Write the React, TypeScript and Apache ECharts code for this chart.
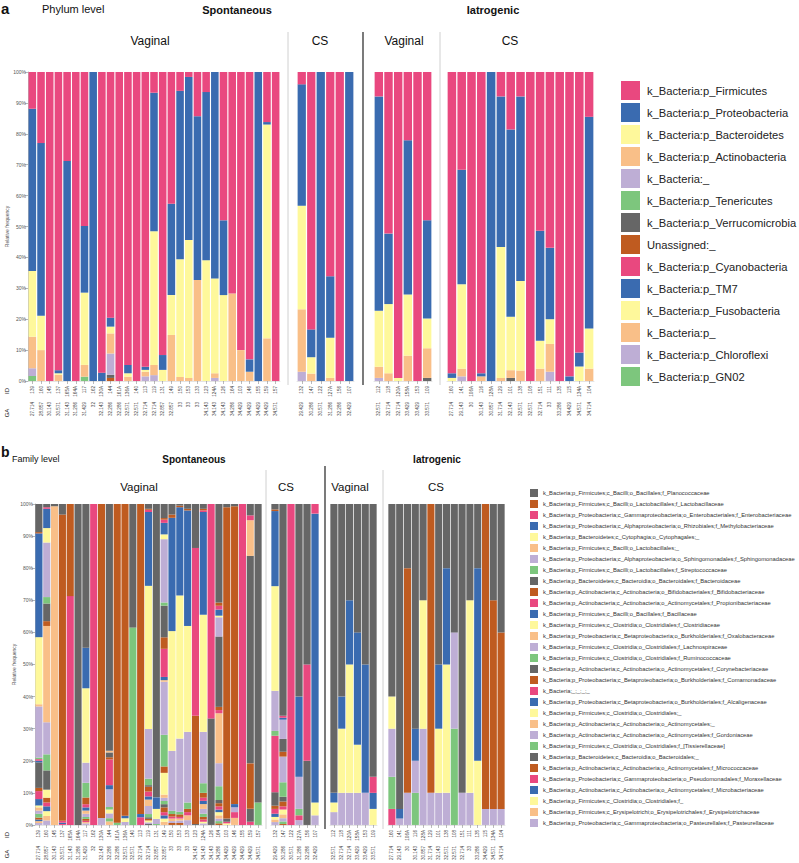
import React, { useEffect, useRef } from 'react';
import * as echarts from 'echarts';

const FONT = 'Liberation Sans, Arial, Helvetica, sans-serif';

// ---------- sample labels ----------
const spVagIds = ['139','160','145','137','165A','164A','117','162','130A','144','161A','136A','140','113','119','131','149','150','153','133','123','124A','126','164','103','146','155','159','157'];
const spVagGA = ['27.714','28.857','30.143','30.571','31.143','31.286','31.429','32','32.143','32.286','32.286','32.571','32.571','32.714','32.714','32.857','32.857','33','33','33','34.143','34.143','34.143','34.286','34.429','34.429','34.429','34.429','34.571'];
const spCsIds = ['132','147','122','127A','156','107'];
const spCsGA = ['29.429','30.286','30.571','31.286','32.286','32.429'];
const iaVagIds = ['112','118','120A','158A','153','109'];
const iaVagGA = ['32.571','32.714','32.714','33.429','33.429','33.571'];
const iaCsIds = ['160','141','106A','116','128A','129','101','138','108','151','111','135','115','134A','104'];
const iaCsGA = ['27.714','29.143','30','30.143','30.857','31.714','32.143','32.571','32.571','32.714','33','33.286','34.429','34.571','34.714'];

// ---------- taxa ----------
const phylumNames = [
  'k_Bacteria:p_Firmicutes','k_Bacteria:p_Proteobacteria','k_Bacteria:p_Bacteroidetes','k_Bacteria:p_Actinobacteria',
  'k_Bacteria:_','k_Bacteria:p_Tenericutes','k_Bacteria:p_Verrucomicrobia','Unassigned:_','k_Bacteria:p_Cyanobacteria',
  'k_Bacteria:p_TM7','k_Bacteria:p_Fusobacteria','k_Bacteria:p_','k_Bacteria:p_Chloroflexi','k_Bacteria:p_GN02'
];
const familyNames = [
  'k_Bacteria;p_Firmicutes;c_Bacilli;o_Bacillales;f_Planococcaceae',
  'k_Bacteria;p_Firmicutes;c_Bacilli;o_Lactobacillales;f_Lactobacillaceae',
  'k_Bacteria;p_Proteobacteria;c_Gammaproteobacteria;o_Enterobacteriales;f_Enterobacteriaceae',
  'k_Bacteria;p_Proteobacteria;c_Alphaproteobacteria;o_Rhizobiales;f_Methylobacteriaceae',
  'k_Bacteria;p_Bacteroidetes;c_Cytophagia;o_Cytophagales;_',
  'k_Bacteria;p_Firmicutes;c_Bacilli;o_Lactobacillales;_',
  'k_Bacteria;p_Proteobacteria;c_Alphaproteobacteria;o_Sphingomonadales;f_Sphingomonadaceae',
  'k_Bacteria;p_Firmicutes;c_Bacilli;o_Lactobacillales;f_Streptococcaceae',
  'k_Bacteria;p_Bacteroidetes;c_Bacteroidia;o_Bacteroidales;f_Bacteroidaceae',
  'k_Bacteria;p_Actinobacteria;c_Actinobacteria;o_Bifidobacteriales;f_Bifidobacteriaceae',
  'k_Bacteria;p_Actinobacteria;c_Actinobacteria;o_Actinomycetales;f_Propionibacteriaceae',
  'k_Bacteria;p_Firmicutes;c_Bacilli;o_Bacillales;f_Bacillaceae',
  'k_Bacteria;p_Firmicutes;c_Clostridia;o_Clostridiales;f_Clostridiaceae',
  'k_Bacteria;p_Proteobacteria;c_Betaproteobacteria;o_Burkholderiales;f_Oxalobacteraceae',
  'k_Bacteria;p_Firmicutes;c_Clostridia;o_Clostridiales;f_Lachnospiraceae',
  'k_Bacteria;p_Firmicutes;c_Clostridia;o_Clostridiales;f_Ruminococcaceae',
  'k_Bacteria;p_Actinobacteria;c_Actinobacteria;o_Actinomycetales;f_Corynebacteriaceae',
  'k_Bacteria;p_Proteobacteria;c_Betaproteobacteria;o_Burkholderiales;f_Comamonadaceae',
  'k_Bacteria;_;_;_;_',
  'k_Bacteria;p_Proteobacteria;c_Betaproteobacteria;o_Burkholderiales;f_Alcaligenaceae',
  'k_Bacteria;p_Firmicutes;c_Clostridia;o_Clostridiales;_',
  'k_Bacteria;p_Actinobacteria;c_Actinobacteria;o_Actinomycetales;_',
  'k_Bacteria;p_Actinobacteria;c_Actinobacteria;o_Actinomycetales;f_Gordoniaceae',
  'k_Bacteria;p_Firmicutes;c_Clostridia;o_Clostridiales;f_[Tissierellaceae]',
  'k_Bacteria;p_Bacteroidetes;c_Bacteroidia;o_Bacteroidales;_',
  'k_Bacteria;p_Actinobacteria;c_Actinobacteria;o_Actinomycetales;f_Micrococcaceae',
  'k_Bacteria;p_Proteobacteria;c_Gammaproteobacteria;o_Pseudomonadales;f_Moraxellaceae',
  'k_Bacteria;p_Actinobacteria;c_Actinobacteria;o_Actinomycetales;f_Microbacteriaceae',
  'k_Bacteria;p_Firmicutes;c_Clostridia;o_Clostridiales;f_',
  'k_Bacteria;p_Firmicutes;c_Erysipelotrichi;o_Erysipelotrichales;f_Erysipelotrichaceae',
  'k_Bacteria;p_Proteobacteria;c_Gammaproteobacteria;o_Pasteurellales;f_Pasteurellaceae'
];

// ---------- colours ----------
const PINK = '#E9487F', BLUE = '#3A6BB0', YELLOW = '#FEF89B', ORANGE = '#F9BF88';
const LILAC = '#BEAED5', GREEN = '#7DC67D', GRAY = '#666666', BROWN = '#BF5B20';
const phylumCycle = [PINK, BLUE, YELLOW, ORANGE, LILAC, GREEN, GRAY, BROWN];
const familyCycle = [GRAY, BROWN, PINK, BLUE, YELLOW, ORANGE, LILAC, GREEN];

// ---------- panel a: phylum %, order = phylumNames (missing = 0) ----------
const phySpVag: number[][] = [
  [11.9, 52.5, 21.3, 10.2, 2.5, 1.6],
  [23, 55.9, 11.1, 10],
  [100],
  [96.5, 1, 0.5, 2],
  [28.8, 71.2],
  [100],
  [49.8, 21.6, 23.4, 3.8, 0, 1.4],
  [0, 100],
  [97.3, 2.7],
  [79.5, 2.9, 2.2, 6.5, 6.9, 0, 1.0, 1.0],
  [100],
  [94.8, 2.7, 1.1, 1.4],
  [100],
  [95.4, 1.0, 0.6, 1.5, 1.5],
  [6.7, 44.8, 43.3, 3.3, 1.9],
  [91.6, 4.8, 3.6],
  [42.6, 29.6, 12.9, 14.9],
  [6.1, 54.5, 38.1, 1.3],
  [1.6, 52.8, 44.6, 1.0],
  [14.3, 53.0, 0, 32.7],
  [6.5, 54.4, 39.1],
  [0, 66.8, 30.7, 1.5, 1.0],
  [48, 24.2, 27.8],
  [71.7, 0, 0, 28.3],
  [90, 0, 0, 10],
  [93, 4, 0, 3],
  [0, 100],
  [16.2, 0.8, 69.2, 13.8],
  [100]
];
const phySpCs: number[][] = [
  [4, 39.3, 33.5, 20.2, 3],
  [83.3, 9, 5.3, 2.4],
  [0, 100],
  [66.1, 19.9, 13, 1],
  [100],
  [0, 100]
];
const phyIaVag: number[][] = [
  [7.9, 69.4, 18.1, 3.6, 1.0],
  [52.3, 22.8, 22.4, 2.5],
  [99, 0, 1],
  [22.1, 49.9, 19.8, 8.2],
  [100],
  [48, 31.8, 9.6, 9.6, 0, 0, 1]
];
const phyIaCs: number[][] = [
  [97.5, 1.5, 1],
  [31.6, 37.1, 27.3, 2.5, 1.5],
  [100],
  [97.5, 1, 0, 1.5],
  [0, 100],
  [7.9, 48.7, 42.4, 1],
  [18.6, 60.6, 17.3, 2.5, 0, 0, 1],
  [7.9, 59.7, 29, 3.4],
  [100],
  [51.4, 35.6, 9, 4],
  [56.9, 23.1, 8, 9, 3],
  [100],
  [98.5, 1.5],
  [90.8, 4.5, 4.7],
  [14.5, 68.5, 13, 4]
];

// ---------- panel b: family %, sparse [familyIndex, value] ----------
const famSpVag: number[][][] = [
  [[0,8.8],[1,0.4],[3,32.5],[4,21],[5,0.7],[6,16],[7,0.5],[10,0.5],[11,0.5],[16,8],[17,1],[18,2.5],[19,2],[20,0.6],[21,1],[22,1],[23,1.2],[25,0.6],[27,0.5],[29,0.6],[30,0.6]],
  [[0,1],[2,0.5],[3,6],[4,4.5],[6,17],[7,2],[8,5.5],[9,1.5],[13,30],[14,10],[15,5],[16,6],[20,2.5],[25,1.5],[26,1.2],[27,1.5],[28,1.5],[29,1.4],[30,1.4]],
  [[0,0.7],[5,99.3]],
  [[0,3.3],[1,95.4],[2,0.6],[3,0.4],[10,0.3]],
  [[1,28.7],[2,71.3]],
  [[0,100]],
  [[0,45],[3,12.7],[4,23.3],[6,6.3],[7,4.6],[9,2.1],[10,1],[11,1],[13,1],[14,1],[15,0.6],[17,0.6],[18,0.4],[21,0.4],[22,0.5]],
  [[2,100]],
  [[1,97.8],[6,2.2]],
  [[0,76.9],[5,0.5],[8,1.5],[9,0.7],[10,8],[11,1.3],[14,5.5],[15,0.8],[20,1.2],[22,1.5],[23,1],[29,1.1]],
  [[1,99.3],[7,0.7]],
  [[1,97.1],[3,0.8],[4,1.2],[6,0.9]],
  [[0,38.5],[7,61.5]],
  [[1,96.6],[3,1.0],[10,2.4]],
  [[0,1.5],[1,0.3],[2,0.7],[3,23],[4,44.6],[6,15.5],[7,2],[8,0.5],[9,1.5],[10,1.5],[11,1],[13,2],[14,2.5],[15,1],[16,0.5],[17,0.5],[20,0.6],[22,0.5],[24,0.3]],
  [[0,91.4],[3,3.6],[4,3.1],[6,1.6],[7,0.3]],
  [[0,4.4],[1,0.5],[2,1],[3,3.6],[4,1.5],[6,19.8],[7,1],[8,9.9],[9,3.6],[10,8.8],[11,1],[13,0.5],[14,16.6],[15,9.9],[17,2],[20,6.8],[21,1],[22,1],[23,1],[24,1],[25,1.5],[26,1],[27,1],[28,1],[29,1]],
  [[0,3.3],[1,1],[3,35.3],[4,37.3],[6,18.7],[7,1],[9,0.8],[10,0.6],[13,0.8],[14,0.6],[17,0.6]],
  [[0,0.5],[1,0.5],[3,27.5],[4,44.6],[6,22.8],[7,0.8],[9,0.8],[10,0.5],[13,0.6],[14,0.8],[17,0.6]],
  [[0,1.5],[1,0.5],[3,36],[4,33],[6,22],[7,2],[9,1],[10,1],[13,1.5],[14,1.5]],
  [[0,13.7],[2,52.3],[9,33.7],[16,0.3]],
  [[0,1.5],[1,0.5],[2,0.5],[3,32],[4,36.5],[6,16],[7,3],[9,1.5],[10,1],[11,1],[13,1.5],[14,1.5],[15,1],[17,0.8],[18,0.7],[20,0.5],[22,0.5]],
  [[2,66.8],[8,33.2]],
  [[0,30.8],[1,1],[2,1.2],[3,1.9],[4,0.5],[6,6],[8,22],[9,1],[10,1],[13,15.6],[14,7.2],[15,4.3],[16,1],[17,1],[18,1],[19,0.8],[20,1],[21,1],[22,0.8],[23,0.7],[25,0.5]],
  [[0,1],[1,97],[8,1],[10,0.5],[20,0.5]],
  [[0,0.7],[1,92.8],[3,1],[6,1.5],[10,1.8],[13,2.2]],
  [[2,100]],
  [[0,3.5],[2,1.5],[5,11],[8,64],[9,14],[16,4],[18,1]],
  [[0,93],[7,7]]
];
const famSpCs: number[][][] = [
  [[0,1.7],[1,0.5],[3,23.4],[4,32.6],[6,12.5],[7,1.5],[10,17.6],[16,4.2],[17,1],[18,1.5],[19,1],[20,0.8],[21,0.8],[22,0.9]],
  [[0,66],[2,0.6],[3,0.6],[6,6],[8,4],[9,1.5],[14,8],[15,4.5],[16,1.5],[17,1.5],[18,1],[20,1.5],[21,1.2],[22,1],[23,0.8],[25,0.3]],
  [[2,100]],
  [[0,60],[3,25],[6,10],[7,2],[10,1.5],[14,1.5]],
  [[0,50],[2,30],[8,20]],
  [[2,3],[3,90],[4,4],[6,3]]
];
const famIaVag: number[][][] = [
  [[0,90],[3,3],[4,3],[6,4]],
  [[0,60],[3,10],[4,20],[6,10]],
  [[0,30],[3,20],[4,40],[6,10]],
  [[0,40],[3,35],[4,15],[6,10]],
  [[0,50],[3,40],[6,10]],
  [[0,85],[2,5],[3,5],[4,5]]
];
const famIaCs: number[][][] = [
  [[0,60],[4,10],[6,15],[7,10],[10,5]],
  [[0,95],[3,3],[6,2]],
  [[0,20],[1,70],[6,10]],
  [[0,70],[3,10],[6,10],[7,10]],
  [[0,30],[4,40],[6,30]],
  [[1,90],[6,10]],
  [[0,50],[3,20],[4,20],[6,10]],
  [[0,20],[3,30],[4,40],[6,10]],
  [[0,40],[6,30],[7,30]],
  [[0,90],[6,10]],
  [[0,30],[4,60],[6,10]],
  [[0,20],[3,60],[4,20]],
  [[1,95],[6,5]],
  [[0,30],[1,65],[6,5]],
  [[0,40],[1,55],[6,5]]
];

// ---------- helpers ----------
const toDense = (sparse: number[][], n: number) => {
  const row = new Array(n).fill(0);
  sparse.forEach(([i, v]) => { row[i] = v; });
  return row;
};
const normalise = (rows: number[][], n: number) =>
  rows.map((r) => {
    const full = Array.from({ length: n }, (_, i) => r[i] || 0);
    const s = full.reduce((a, b) => a + b, 0) || 1;
    return full.map((v) => (v * 100) / s);
  });

const groupIds = [spVagIds, spCsIds, iaVagIds, iaCsIds];
const groupGA = [spVagGA, spCsGA, iaVagGA, iaCsGA];

const phyGroups = [phySpVag, phySpCs, phyIaVag, phyIaCs].map((g) => normalise(g, phylumNames.length));
const famGroups = [famSpVag, famSpCs, famIaVag, famIaCs].map((g) =>
  normalise(g.map((b) => toDense(b, familyNames.length)), familyNames.length)
);

// layout (pixels)
const gridA = [{ left: 28, width: 252 }, { left: 297, width: 57 }, { left: 374, width: 58 }, { left: 447, width: 147 }];
const gridB = [{ left: 35, width: 227 }, { left: 271, width: 48 }, { left: 330, width: 47 }, { left: 388, width: 117 }];
const A_TOP = 72, A_H = 309, B_TOP = 504, B_H = 322;

function buildOption() {
  const grid: any[] = [];
  const xAxis: any[] = [];
  const yAxis: any[] = [];
  const series: any[] = [];

  const panels = [
    { grids: gridA, top: A_TOP, h: A_H, names: phylumNames, cycle: phylumCycle, groups: phyGroups, idMargin: 5, gaMargin: 21, gap: '13%' },
    { grids: gridB, top: B_TOP, h: B_H, names: familyNames, cycle: familyCycle, groups: famGroups, idMargin: 5, gaMargin: 21, gap: '9%' }
  ];

  panels.forEach((p, pi) => {
    p.grids.forEach((g, gi) => {
      const k = pi * 4 + gi;
      grid.push({ left: g.left, width: g.width, top: p.top, height: p.h });
      xAxis.push({
        type: 'category', gridIndex: k, data: groupIds[gi], position: 'bottom',
        axisLine: { show: true, lineStyle: { color: '#c8c8c8', width: 0.5 } },
        axisTick: { show: true, alignWithLabel: true, length: 3, lineStyle: { color: '#777', width: 0.5 } },
        axisLabel: { rotate: 90, fontSize: 4.6, margin: p.idMargin, color: '#444', interval: 0, fontFamily: FONT }
      });
      xAxis.push({
        type: 'category', gridIndex: k, data: groupGA[gi], position: 'bottom',
        axisLine: { show: false }, axisTick: { show: false },
        axisLabel: { rotate: 90, fontSize: 4.6, margin: p.gaMargin, color: '#444', interval: 0, fontFamily: FONT }
      });
      yAxis.push({
        type: 'value', gridIndex: k, min: 0, max: 100, interval: 10, show: gi === 0,
        axisLine: { show: true, lineStyle: { color: '#888', width: 0.6 } },
        axisTick: { show: true, length: 3, lineStyle: { color: '#888', width: 0.6 } },
        axisLabel: { formatter: '{value}%', fontSize: 5, margin: 2, color: '#555', fontFamily: FONT },
        splitLine: { show: false },
        name: 'Relative frequency', nameLocation: 'middle', nameGap: 16,
        nameTextStyle: { fontSize: 5, color: '#555', fontFamily: FONT }
      });
      const bars = p.groups[gi];
      for (let t = p.names.length - 1; t >= 0; t--) {
        series.push({
          type: 'bar', name: p.names[t], stack: 'p' + k,
          xAxisIndex: 2 * k, yAxisIndex: k,
          barCategoryGap: p.gap,
          itemStyle: { color: p.cycle[t % 8] },
          data: bars.map((b) => b[t]),
          silent: true
        });
      }
    });
  });

  const txt = (x: number, y: number, text: string, size: number, bold = false, align = 'left', rot = 0) => ({
    type: 'text', x, y, rotation: rot,
    style: { text, fontSize: size, fontWeight: bold ? 'bold' : 'normal', fontFamily: FONT, fill: '#111', textAlign: align, textVerticalAlign: 'middle' }
  });
  const vline = (x: number, y1: number, y2: number, color: string, w: number) => ({
    type: 'line', shape: { x1: x, y1, x2: x, y2 }, style: { stroke: color, lineWidth: w }
  });

  const graphic = [
    txt(1, 8, 'a', 15, true),
    txt(42, 9, 'Phylum level', 11),
    txt(237, 10, 'Spontaneous', 11, true, 'center'),
    txt(493, 10, 'Iatrogenic', 11, true, 'center'),
    txt(150, 41, 'Vaginal', 12, false, 'center'),
    txt(320, 41, 'CS', 12, false, 'center'),
    txt(404, 41, 'Vaginal', 12, false, 'center'),
    txt(510, 41, 'CS', 12, false, 'center'),
    vline(288, 32, 385, '#d0d0d0', 1),
    vline(363, 32, 385, '#222', 1.2),
    vline(440, 32, 385, '#d0d0d0', 1),
    txt(7, 391, 'ID', 6, false, 'center', Math.PI / 2),
    txt(7, 413, 'GA', 6, false, 'center', Math.PI / 2),

    txt(1, 452, 'b', 14, true),
    txt(12, 459, 'Family level', 9),
    txt(194, 459, 'Spontaneous', 10, true, 'center'),
    txt(437, 459, 'Iatrogenic', 10, true, 'center'),
    txt(139, 487, 'Vaginal', 11.5, false, 'center'),
    txt(286, 487, 'CS', 11.5, false, 'center'),
    txt(350, 487, 'Vaginal', 11.5, false, 'center'),
    txt(436, 487, 'CS', 11.5, false, 'center'),
    vline(266, 470, 829, '#d0d0d0', 1),
    vline(325, 466, 829, '#222', 1.2),
    vline(383, 470, 829, '#d0d0d0', 1),
    txt(7, 835, 'ID', 6, false, 'center', Math.PI / 2),
    txt(7, 854, 'GA', 6, false, 'center', Math.PI / 2)
  ];

  return {
    animation: false,
    textStyle: { fontFamily: FONT },
    grid, xAxis, yAxis, series, graphic,
    legend: [
      {
        orient: 'vertical', left: 616, top: 76, itemWidth: 19, itemHeight: 19, itemGap: 3, icon: 'rect',
        data: phylumNames, selectedMode: false,
        textStyle: { fontSize: 11.2, color: '#222', fontFamily: FONT, padding: [0, 0, 0, 2] }
      },
      {
        orient: 'vertical', left: 525, top: 484, itemWidth: 8, itemHeight: 8, itemGap: 3, icon: 'rect',
        data: familyNames, selectedMode: false,
        textStyle: { fontSize: 5.8, color: '#333', fontFamily: FONT }
      }
    ]
  };
}

export default function App() {
  const ref = useRef<HTMLDivElement>(null);
  useEffect(() => {
    if (!ref.current) return;
    const chart = echarts.init(ref.current, undefined, { renderer: 'svg' });
    chart.setOption(buildOption() as any);
    return () => chart.dispose();
  }, []);
  return <div ref={ref} style={{ position: 'absolute', left: 0, top: 0, width: 799, height: 863, background: '#fff' }} />;
}
